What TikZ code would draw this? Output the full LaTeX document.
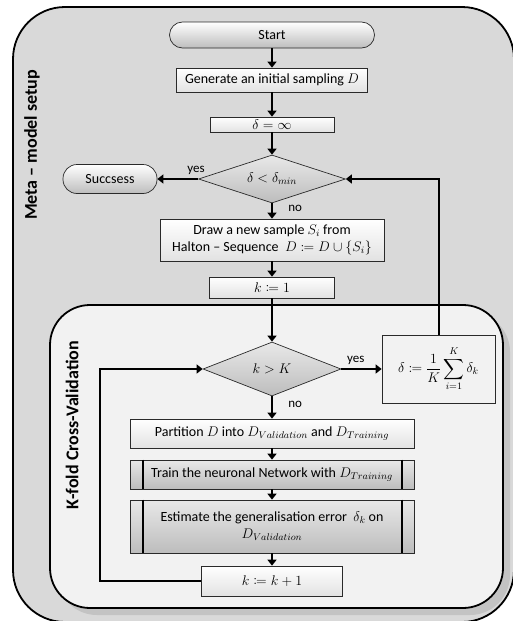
\RequirePackage{fix-cm}
\documentclass[tikz,border=0pt]{standalone}
\usepackage{amsmath,mathtools}
\usepackage{fontspec}
\setmainfont{Carlito}
\usetikzlibrary{shapes.geometric,arrows.meta}
\definecolor{outerbg}{HTML}{D9D9D9}
\definecolor{innerbg}{HTML}{F2F2F2}
\definecolor{edge}{HTML}{2A2A2A}
\definecolor{boxlow}{HTML}{E2E2E2}
\definecolor{proctop}{HTML}{E8E8E8}
\definecolor{proclow}{HTML}{BDBDBD}
\tikzset{
  frame/.style={draw=black, line width=1.8pt},
  box/.style={rectangle, draw=edge, line width=0.7pt, top color=white, bottom color=boxlow, inner sep=2pt, align=center},
  term/.style={box, rounded corners=13pt, bottom color=proclow},
  proc/.style={box, top color=proctop, bottom color=proclow},
  cond/.style={diamond, draw=edge, line width=0.7pt, top color=proctop, bottom color=proclow, inner sep=0pt},
  flow/.style={line width=2pt, -{Triangle[length=6pt,width=9pt]}},
  bar/.style={line width=2pt},
  lab/.style={font=\fontsize{13}{15}\selectfont},
  ttl/.style={font=\bfseries\fontsize{18}{20}\selectfont, rotate=90},
}

\begin{document}
\begin{tikzpicture}[x=1pt, y=-1pt, font=\fontsize{14}{17}\selectfont]
  \useasboundingbox (0,0) rectangle (512,621);

  % frames
  \draw[frame, fill=outerbg, rounded corners=52pt] (13,7) rectangle (514,622);
  \fill[outerbg!90!black, rounded corners=40pt] (57,312) rectangle (510,615);
  \draw[frame, fill=innerbg, rounded corners=40pt] (50,305) rectangle (503,608);

  \node[ttl] (metattl) at (32,145) {Meta – model setup};
  \node[ttl] (kfoldttl) at (72,425) {K-fold Cross-Validation};

  % outer loop
  \node[term, minimum width=205pt, minimum height=26pt] (start) at (272,35) {Start};
  \node[box, minimum width=191pt, minimum height=24pt] (gen) at (272,80) {Generate an initial sampling $D$};
  \node[box, minimum width=124pt, minimum height=15pt, inner sep=0pt] (init) at (272,124.5) {$\delta=\infty$};
  \node[cond, aspect=3.06, minimum width=147pt, minimum height=48pt] (stop) at (272,179) {$\delta<\delta_{min}$};
  \node[term, minimum width=94pt, minimum height=29pt, rounded corners=14pt] (succ) at (110,179) {Succsess};
  \node[box, minimum width=224pt, minimum height=42pt] (sample) at (272,240) {Draw a new sample $S_i$ from\\Halton – Sequence \ $D\coloneqq D\cup\{S_i\}$};
  \node[box, minimum width=125pt, minimum height=21pt] (kone) at (272,287.5) {$k\coloneqq 1$};

  % inner loop
  \node[cond, aspect=2.56, minimum width=138pt, minimum height=54pt] (kcheck) at (272,369) {$k>K$};
  \node[box, top color=innerbg, bottom color=innerbg, minimum width=113pt, minimum height=68pt] (mean) at (438.5,369) {$\displaystyle\delta\coloneqq\frac{1}{K}\sum_{i=1}^{K}\delta_k$};
  \node[box, minimum width=284pt, minimum height=29pt] (part) at (272,433.5) {Partition $D$ into $D_{Validation}$ and $D_{Training}$};
  \node[proc, minimum width=284pt, minimum height=29pt] (train) at (272,474.5) {Train the neuronal Network with $D_{Training}$};
  \node[proc, minimum width=284pt, minimum height=53pt] (est) at (272,526.5) {Estimate the generalisation error \ $\delta_k$ on\\$D_{Validation}$};
  \node[box, minimum width=141pt, minimum height=30pt] (kinc) at (272,581) {$k\coloneqq k+1$};
  \coordinate (back) at (100,581);

  \foreach \p in {train,est} {
    \draw[bar] ([xshift=13pt]\p.north west) -- ([xshift=13pt]\p.south west);
    \draw[bar] ([xshift=-12pt]\p.north east) -- ([xshift=-12pt]\p.south east);
  }

  % connectors
  \draw[flow] (start) -- (gen);
  \draw[flow] (gen) -- (init);
  \draw[flow] (init) -- (stop);
  \draw[flow] (stop.west) -- node[lab, pos=0.05, above] {yes} (succ.east);
  \draw[flow] (stop) -- node[lab, pos=0.3, right=12pt] {no} (sample);
  \draw[flow] (sample) -- (kone);
  \draw[flow] (kone) -- (kcheck);
  \draw[flow] (kcheck.east) -- node[lab, pos=0.36, above] {yes} (mean.west);
  \draw[flow] (mean.north) |- (stop.east);
  \draw[flow] (kcheck) -- node[lab, pos=0.35, right=12pt] {no} (part);
  \draw[flow] (part) -- (train);
  \draw[flow] (train) -- (est);
  \draw[flow] (est) -- (kinc);
  \draw[flow] (kinc.west) -- (back) |- (kcheck.west);
\end{tikzpicture}
\end{document}
